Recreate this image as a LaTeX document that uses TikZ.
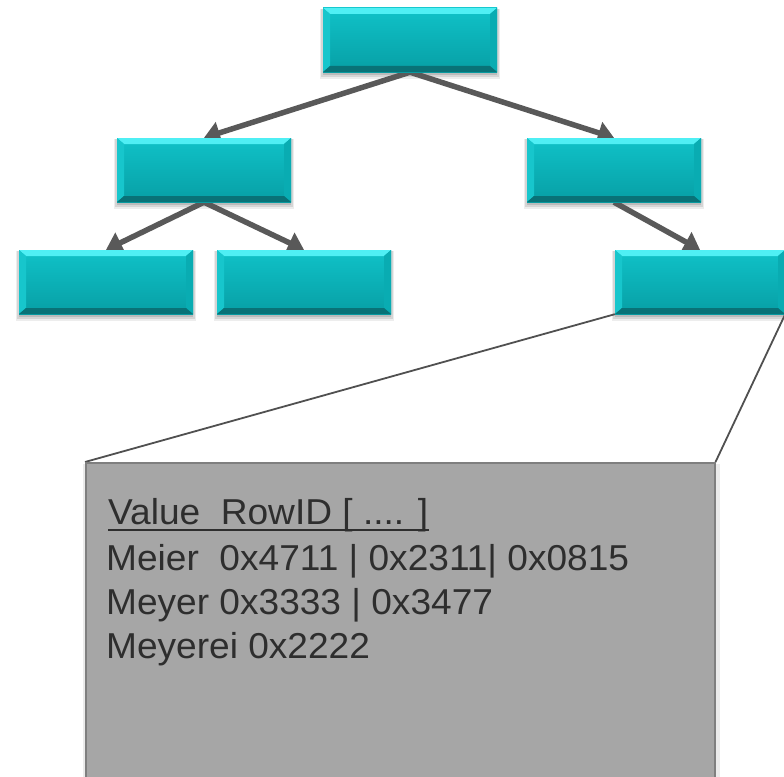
\documentclass[tikz,border=0pt]{standalone}
\usepackage{fontspec}
\newfontfamily\bodyfont[FakeStretch=1.03]{Liberation Sans}
\usetikzlibrary{arrows.meta,calc}
\pgfdeclarelayer{bg}
\pgfsetlayers{bg,main}
\definecolor{tealmidtop}{HTML}{10C2C8}
\definecolor{tealmidbot}{HTML}{079FA5}
\definecolor{tealbevtop}{HTML}{4FEFF4}
\definecolor{tealbevleft}{HTML}{17C6CC}
\definecolor{tealbevright}{HTML}{09ACB2}
\definecolor{tealbevbot}{HTML}{097277}
\definecolor{arrowgray}{HTML}{595959}
\definecolor{linegray}{HTML}{505050}
\definecolor{boxgray}{HTML}{A6A6A6}
\definecolor{boxedge}{HTML}{7F7F7F}
\definecolor{textgray}{HTML}{2E2E2E}
\tikzset{
  tealbox/.style={rectangle, minimum width=174pt, minimum height=64pt, inner sep=0pt,
    top color=tealmidtop, bottom color=tealmidbot,
    path picture={
      \fill[tealbevtop] (path picture bounding box.north west) -- (path picture bounding box.north east)
        -- ([shift={(-7pt,-6pt)}]path picture bounding box.north east) -- ([shift={(7pt,-6pt)}]path picture bounding box.north west) -- cycle;
      \fill[tealbevleft] (path picture bounding box.north west) -- ([shift={(7pt,-6pt)}]path picture bounding box.north west)
        -- ([shift={(7pt,6pt)}]path picture bounding box.south west) -- (path picture bounding box.south west) -- cycle;
      \fill[tealbevright] (path picture bounding box.north east) -- ([shift={(-7pt,-6pt)}]path picture bounding box.north east)
        -- ([shift={(-7pt,6pt)}]path picture bounding box.south east) -- (path picture bounding box.south east) -- cycle;
      \fill[tealbevbot] (path picture bounding box.south west) -- (path picture bounding box.south east)
        -- ([shift={(-7pt,6pt)}]path picture bounding box.south east) -- ([shift={(7pt,6pt)}]path picture bounding box.south west) -- cycle;
    }},
  treearrow/.style={draw=arrowgray, line width=5.5pt, -{Triangle[length=16pt,width=22pt]}, shorten >=0pt},
  zoomline/.style={draw=linegray, line width=1.8pt},
  listbox/.style={rectangle, fill=boxgray, draw=boxedge, line width=1.5pt, inner sep=0pt},
  listtext/.style={anchor=base west, inner sep=0pt, text=textgray, font=\bodyfont\fontsize{36pt}{44pt}\selectfont},
}
\begin{document}
\begin{tikzpicture}[x=1pt,y=-1pt]
\useasboundingbox (0,0) rectangle (784,776);
\clip (0,0) rectangle (784,776);
% tree boxes
\node[tealbox] (root) at (410,40) {};
\node[tealbox] (ml) at (204,170) {};
\node[tealbox] (mr) at (614,170) {};
\node[tealbox] (ll) at (106,282) {};
\node[tealbox] (lr) at (304,282) {};
\node[tealbox, minimum width=170pt] (br) at (700,282) {};
% list box
\node[listbox, anchor=north west, minimum width=629pt, minimum height=340pt] (gb) at (85,462) {};
\node[listtext] (l1) at (108,524) {Value~~RowID [ .... ]};
\node[listtext] (l2) at (106,570) {Meier~~0x4711 | 0x2311| 0x0815};
\node[listtext] (l3) at (106,614) {Meyer 0x3333 | 0x3477};
\node[listtext] (l4) at (106,658) {Meyerei 0x2222};
\draw[textgray, line width=2pt] ([yshift=-6pt]l1.base west) -- ([yshift=-6pt]l1.base east);
\begin{pgfonlayer}{bg}
  % shadows
  \foreach \n in {root,ml,mr,ll,lr,br}{
    \fill[black, opacity=0.07] ([shift={(-3pt,-1pt)}]\n.north west) rectangle ([shift={(3pt,-7pt)}]\n.south east);
    \fill[black, opacity=0.10] ([shift={(-1.5pt,-1pt)}]\n.north west) rectangle ([shift={(1.5pt,-4.5pt)}]\n.south east);
    \fill[black, opacity=0.12] ([shift={(0pt,-1pt)}]\n.north west) rectangle ([shift={(0pt,-2.5pt)}]\n.south east);
  }
  \fill[black, opacity=0.08] ([shift={(-2pt,-2pt)}]gb.north west) rectangle ([shift={(4pt,0pt)}]gb.south east);
  % arrows
  \draw[treearrow] (root.south) -- (ml.north);
  \draw[treearrow] (root.south) -- (mr.north);
  \draw[treearrow] (ml.south) -- (ll.north);
  \draw[treearrow] (ml.south) -- (lr.north);
  \draw[treearrow] (mr.south) -- (br.north);
  % zoom lines
  \draw[zoomline] (gb.north west) -- (br.south west);
  \draw[zoomline] (gb.north east) -- (br.south east);
\end{pgfonlayer}
\end{tikzpicture}
\end{document}
